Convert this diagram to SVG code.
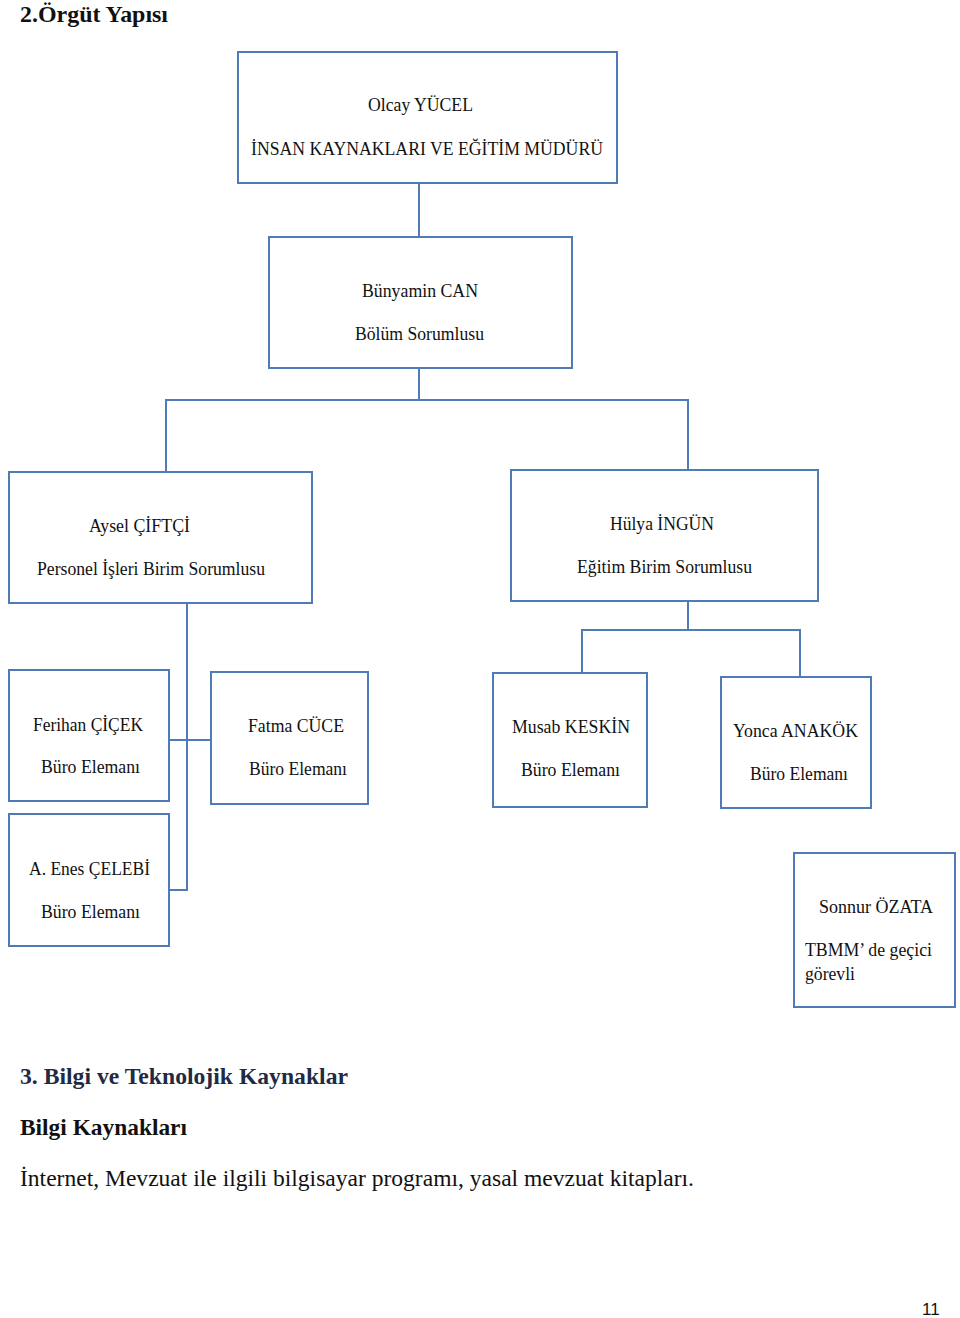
<svg xmlns="http://www.w3.org/2000/svg" width="960" height="1318" viewBox="0 0 960 1318">
<style>
.box{fill:#fff;stroke:#4f7cb6;stroke-width:2}
.ln{fill:none;stroke:#4f7cb6;stroke-width:2}
.t{font-family:"Liberation Serif","Times New Roman",serif;font-size:18.5px;fill:#111}
.h{font-family:"Liberation Serif","Times New Roman",serif;font-size:23px;font-weight:bold;fill:#111}
.h2{font-family:"Liberation Serif","Times New Roman",serif;font-size:23px;font-weight:bold;fill:#1f2a44}
.p{font-family:"Liberation Serif","Times New Roman",serif;font-size:24px;fill:#111}
</style>
<rect width="960" height="1318" fill="#fff"/>
<text class="h" x="20" y="22" textLength="148" lengthAdjust="spacingAndGlyphs">2.Örgüt Yapısı</text>
<g id="connectors">
<path class="ln" d="M419 183V237"/>
<path class="ln" d="M419 368V400M166 472V400H688V470"/>
<path class="ln" d="M187 603V890H166M166 740H211"/>
<path class="ln" d="M688 601V630M582 672V630H800V677"/>
</g>
<g id="n-olcay"><rect class="box" x="238" y="52" width="379" height="131"/>
<text class="t" x="368" y="111" textLength="105" lengthAdjust="spacingAndGlyphs">Olcay YÜCEL</text>
<text class="t" x="251" y="155" textLength="352" lengthAdjust="spacingAndGlyphs">İNSAN KAYNAKLARI VE EĞİTİM MÜDÜRÜ</text></g>
<g id="n-bunyamin"><rect class="box" x="269" y="237" width="303" height="131"/>
<text class="t" x="362" y="297" textLength="116" lengthAdjust="spacingAndGlyphs">Bünyamin CAN</text>
<text class="t" x="355" y="340" textLength="129" lengthAdjust="spacingAndGlyphs">Bölüm Sorumlusu</text></g>
<g id="n-aysel"><rect class="box" x="9" y="472" width="303" height="131"/>
<text class="t" x="89" y="532" textLength="101" lengthAdjust="spacingAndGlyphs">Aysel ÇİFTÇİ</text>
<text class="t" x="37" y="575" textLength="228" lengthAdjust="spacingAndGlyphs">Personel İşleri Birim Sorumlusu</text></g>
<g id="n-hulya"><rect class="box" x="511" y="470" width="307" height="131"/>
<text class="t" x="610" y="530" textLength="104" lengthAdjust="spacingAndGlyphs">Hülya İNGÜN</text>
<text class="t" x="577" y="573" textLength="175" lengthAdjust="spacingAndGlyphs">Eğitim Birim Sorumlusu</text></g>
<g id="n-ferihan"><rect class="box" x="9" y="670" width="160" height="131"/>
<text class="t" x="33" y="731" textLength="110" lengthAdjust="spacingAndGlyphs">Ferihan ÇİÇEK</text>
<text class="t" x="41" y="773" textLength="99" lengthAdjust="spacingAndGlyphs">Büro Elemanı</text></g>
<g id="n-fatma"><rect class="box" x="211" y="672" width="157" height="132"/>
<text class="t" x="248" y="732" textLength="96" lengthAdjust="spacingAndGlyphs">Fatma CÜCE</text>
<text class="t" x="249" y="775" textLength="98" lengthAdjust="spacingAndGlyphs">Büro Elemanı</text></g>
<g id="n-musab"><rect class="box" x="493" y="673" width="154" height="134"/>
<text class="t" x="512" y="733" textLength="118" lengthAdjust="spacingAndGlyphs">Musab KESKİN</text>
<text class="t" x="521" y="776" textLength="99" lengthAdjust="spacingAndGlyphs">Büro Elemanı</text></g>
<g id="n-yonca"><rect class="box" x="721" y="677" width="150" height="131"/>
<text class="t" x="733" y="737" textLength="125" lengthAdjust="spacingAndGlyphs">Yonca ANAKÖK</text>
<text class="t" x="750" y="780" textLength="98" lengthAdjust="spacingAndGlyphs">Büro Elemanı</text></g>
<g id="n-enes"><rect class="box" x="9" y="814" width="160" height="132"/>
<text class="t" x="29" y="875" textLength="121" lengthAdjust="spacingAndGlyphs">A. Enes ÇELEBİ</text>
<text class="t" x="41" y="918" textLength="99" lengthAdjust="spacingAndGlyphs">Büro Elemanı</text></g>
<g id="n-sonnur"><rect class="box" x="794" y="853" width="161" height="154"/>
<text class="t" x="819" y="913" textLength="114" lengthAdjust="spacingAndGlyphs">Sonnur ÖZATA</text>
<text class="t" x="805" y="956" textLength="127" lengthAdjust="spacingAndGlyphs">TBMM’ de geçici</text>
<text class="t" x="805" y="980" textLength="50" lengthAdjust="spacingAndGlyphs">görevli</text></g>
<text class="h2" x="20" y="1084" textLength="328" lengthAdjust="spacingAndGlyphs">3. Bilgi ve Teknolojik Kaynaklar</text>
<text class="h" x="20" y="1135" textLength="167" lengthAdjust="spacingAndGlyphs">Bilgi Kaynakları</text>
<text class="p" x="20" y="1186" textLength="674" lengthAdjust="spacingAndGlyphs">İnternet, Mevzuat ile ilgili bilgisayar programı, yasal mevzuat kitapları.</text>
<text x="922" y="1315" style="font-family:'Liberation Sans',Arial,sans-serif;font-size:17px;fill:#111">11</text>
</svg>
